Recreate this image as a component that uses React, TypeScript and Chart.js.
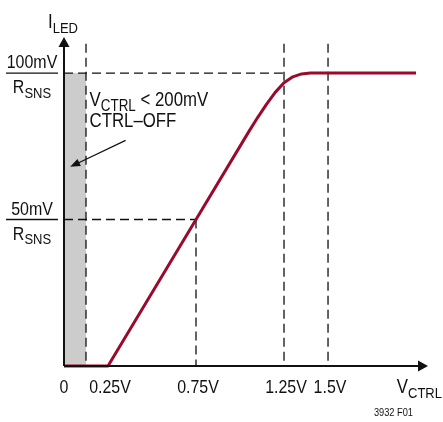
import React, { useEffect, useRef } from "react";
import { Chart, registerables } from "chart.js";

Chart.register(...registerables);

// ---- data ----
const curveX = [0, 0.25, 0.75, 1.05, 1.1, 1.15, 1.2, 1.25, 1.3, 1.35, 1.4, 2.0];
const curveY = [0, 0, 50, 80, 84.8, 89.3, 93.4, 96.7, 98.7, 99.7, 100, 100];
const offRegionX = [0, 0.125];
const offRegionY = [100, 100];
const markerX = [0.125, 0.75, 1.25, 1.5];
const markerTop = [110, 50, 110, 110];
const levelY = [100, 50];
const levelEnd = [1.27, 0.75];
const tickValues = [0, 0.25, 0.75, 1.25, 1.5];
const tickLabels = ["0", "0.25V", "0.75V", "1.25V", "1.5V"];
const levelLabels = ["100mV", "50mV"];

const FONT = "'Liberation Sans', Arial, sans-serif";
const SQUEEZE = 0.84;
const RED = "#9a0a2c";
const INK = "#111111";

type Run = { t: string; sub?: boolean };

function drawRuns(ctx: CanvasRenderingContext2D, x: number, y: number, runs: Run[], size: number, subSize: number, align: "left" | "center" | "right") {
  const widths = runs.map((r) => {
    ctx.font = `${r.sub ? subSize : size}px ${FONT}`;
    return ctx.measureText(r.t).width * SQUEEZE;
  });
  const total = widths.reduce((a, b) => a + b, 0);
  let cx = align === "center" ? x - total / 2 : align === "right" ? x - total : x;
  ctx.textAlign = "left";
  ctx.textBaseline = "alphabetic";
  runs.forEach((r, i) => {
    ctx.font = `${r.sub ? subSize : size}px ${FONT}`;
    ctx.save();
    ctx.translate(cx, r.sub ? y + subSize * 0.3 : y);
    ctx.scale(SQUEEZE, 1);
    ctx.fillText(r.t, 0, 0);
    ctx.restore();
    cx += widths[i];
  });
}

const overlay = {
  id: "overlay",
  afterDatasetsDraw(chart: any) {
    const ctx: CanvasRenderingContext2D = chart.ctx;
    const xs = chart.scales.x;
    const ys = chart.scales.y;
    const ca = chart.chartArea;
    const x0 = xs.getPixelForValue(0);
    const y0 = ys.getPixelForValue(0);
    ctx.save();
    ctx.fillStyle = INK;
    ctx.strokeStyle = INK;
    // axes
    ctx.lineWidth = 2;
    ctx.beginPath();
    ctx.moveTo(x0, y0);
    ctx.lineTo(x0, ca.top + 8);
    ctx.moveTo(x0, y0);
    ctx.lineTo(ca.right - 8, y0);
    ctx.stroke();
    // arrowheads
    ctx.beginPath();
    ctx.moveTo(x0, ca.top);
    ctx.lineTo(x0 - 5.5, ca.top + 10);
    ctx.lineTo(x0 + 5.5, ca.top + 10);
    ctx.closePath();
    ctx.fill();
    ctx.beginPath();
    ctx.moveTo(ca.right, y0);
    ctx.lineTo(ca.right - 10, y0 - 5.5);
    ctx.lineTo(ca.right - 10, y0 + 5.5);
    ctx.closePath();
    ctx.fill();

    // level labels (fractions)
    levelY.forEach((v, i) => {
      const py = ys.getPixelForValue(v);
      ctx.lineWidth = 1.3;
      ctx.beginPath();
      ctx.moveTo(6, py);
      ctx.lineTo(58, py);
      ctx.stroke();
      drawRuns(ctx, 32, py - 5, [{ t: levelLabels[i] }], 19, 15.5, "center");
      drawRuns(ctx, 32, py + 20, [{ t: "R" }, { t: "SNS", sub: true }], 19, 15.5, "center");
    });

    // tick labels
    tickValues.forEach((v, i) => {
      drawRuns(ctx, xs.getPixelForValue(v) + (i === 0 ? 0 : 2), y0 + 27, [{ t: tickLabels[i] }], 19, 15.5, "center");
    });

    // axis titles
    drawRuns(ctx, x0 - 16, 28, [{ t: "I" }, { t: "LED", sub: true }], 20, 15.5, "left");
    drawRuns(ctx, 442, y0 + 27, [{ t: "V" }, { t: "CTRL", sub: true }], 20, 15.5, "right");
    drawRuns(ctx, 413, 416, [{ t: "3932 F01" }], 11, 11, "right");

    // annotation
    const ax = xs.getPixelForValue(0.145);
    drawRuns(ctx, ax, ys.getPixelForValue(88.7), [{ t: "V" }, { t: "CTRL", sub: true }, { t: " < 200mV" }], 20, 16, "left");
    drawRuns(ctx, ax, ys.getPixelForValue(81.5), [{ t: "CTRL\u2013OFF" }], 20, 16, "left");
    const sx = xs.getPixelForValue(0.35), sy = ys.getPixelForValue(77);
    const ex = xs.getPixelForValue(0.035), ey = ys.getPixelForValue(68);
    const ang = Math.atan2(ey - sy, ex - sx);
    ctx.lineWidth = 1.2;
    ctx.beginPath();
    ctx.moveTo(sx, sy);
    ctx.lineTo(ex - 6 * Math.cos(ang), ey - 6 * Math.sin(ang));
    ctx.stroke();
    ctx.beginPath();
    ctx.moveTo(ex, ey);
    ctx.lineTo(ex - 10 * Math.cos(ang) + 4 * Math.sin(ang), ey - 10 * Math.sin(ang) - 4 * Math.cos(ang));
    ctx.lineTo(ex - 10 * Math.cos(ang) - 4 * Math.sin(ang), ey - 10 * Math.sin(ang) + 4 * Math.cos(ang));
    ctx.closePath();
    ctx.fill();
    ctx.restore();
  },
};

export default function App() {
  const ref = useRef<HTMLCanvasElement>(null);
  useEffect(() => {
    if (!ref.current) return;
    const dash = { borderColor: INK, borderWidth: 1.3, borderDash: [9, 5], pointRadius: 0, fill: false, order: 5, clip: false as any, tension: 0 };
    const datasets: any[] = [
      {
        data: offRegionX.map((x, i) => ({ x, y: offRegionY[i] })),
        borderWidth: 0,
        borderColor: "rgba(0,0,0,0)",
        backgroundColor: "#cccccc",
        fill: "origin",
        pointRadius: 0,
        order: 10,
      },
      ...markerX.map((x, i) => ({ ...dash, data: [{ x, y: markerTop[i] }, { x, y: 0 }] })),
      ...levelY.map((v, i) => ({ ...dash, data: [{ x: 0, y: v }, { x: levelEnd[i], y: v }] })),
      {
        data: curveX.map((x, i) => ({ x, y: curveY[i] })),
        borderColor: RED,
        borderWidth: 3,
        borderJoinStyle: "round",
        pointRadius: 0,
        fill: false,
        tension: 0,
        clip: false,
        order: 0,
      },
    ];
    const chart = new Chart(ref.current, {
      type: "line",
      data: { datasets },
      options: {
        animation: false,
        responsive: false,
        events: [],
        layout: { padding: { left: 64, right: 15, top: 37, bottom: 56 } },
        plugins: { legend: { display: false }, tooltip: { enabled: false }, title: { display: false } },
        scales: {
          x: { type: "linear", min: 0, max: 2.068, display: false },
          y: { type: "linear", min: 0, max: 112.3, display: false },
        },
      },
      plugins: [overlay],
    });
    return () => chart.destroy();
  }, []);
  return (
    <div style={{ position: "absolute", left: 0, top: 0, width: 443, height: 422, background: "#fff" }}>
      <canvas ref={ref} width={443} height={422} style={{ width: 443, height: 422 }} />
    </div>
  );
}
